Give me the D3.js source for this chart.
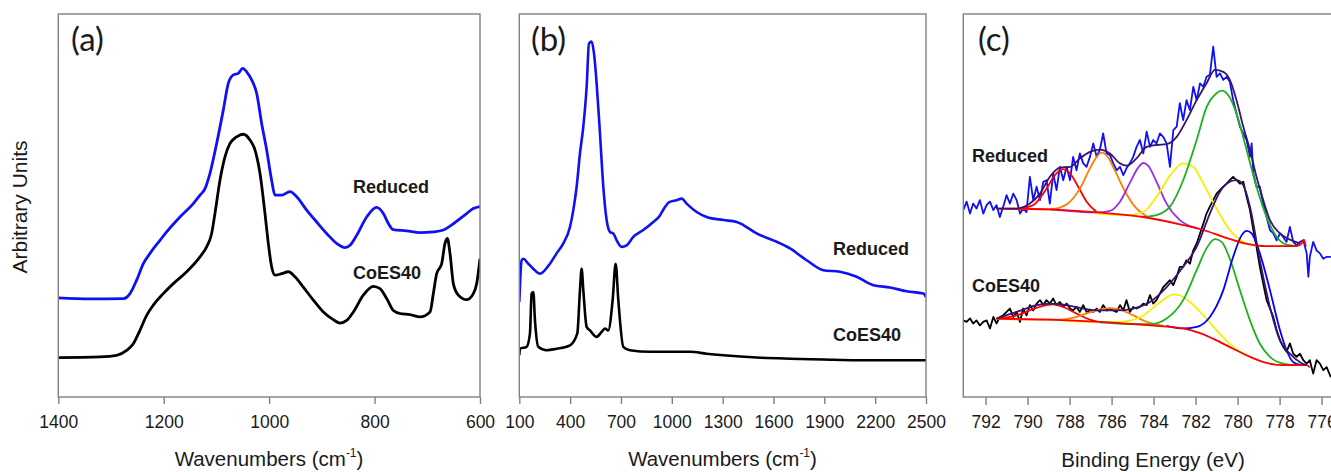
<!DOCTYPE html>
<html>
<head>
<meta charset="utf-8">
<script src="https://cdn.jsdelivr.net/npm/d3@7"></script>
<style>
  body { margin: 0; background: #fff; }
</style>
</head>
<body>
<div id="canvas"></div>
<script>

/* tick labels */
const irTicks = [1400, 1200, 1000, 800, 600];
const ramanTicks = [100, 400, 700, 1000, 1300, 1600, 1900, 2200, 2500];
const xpsTicks = [792, 790, 788, 786, 784, 782, 780, 778, 776];

/* (a) IR spectra: [wavenumber, intensity a.u.] */
const irReduced = [[1400,25.9],[1340,25.6],[1276.7,25.7],[1264,27.0],[1251.4,30.5],[1238.7,34.8],[1226.1,37.5],[1207.1,40.9],
  [1194.5,43.1],[1169.2,47.0],[1143.9,50.5],[1131.2,52.7],[1121.7,54.4],[1112.3,58.4],[1099.6,66.2],[1087,74.9],
  [1077.5,81.9],[1068,84.1],[1058.5,84.5],[1050.3,85.8],[1042.7,84.9],[1033.2,82.8],[1023.7,79.3],[1014.2,71.4],
  [1004.7,64.5],[995.3,56.6],[988.9,52.7],[976.3,52.7],[960.5,53.6],[947.8,52.3],[928.9,48.8],[909.9,45.7],
  [890.9,42.7],[871.9,40.1],[856.1,39.0],[846.6,39.6],[834,42.2],[815,47.0],[796,49.5],[783.4,47.9],
  [773.9,45.3],[764.4,43.7],[739.1,43.4],[713.8,42.9],[688.5,43.1],[669.6,43.6],[656.9,44.6],[637.9,46.6],
  [625.3,47.9],[612.6,49.2],[600,49.7]];
const irCoES40 = [[1400,10.3],[1321,10.5],[1289.3,10.9],[1270.4,12.2],[1257.7,13.9],[1245.1,17.4],[1232.4,21.3],[1219.8,24.0],
  [1200.8,27.0],[1181.8,29.6],[1156.5,32.7],[1131.2,36.6],[1118.6,39.2],[1109.1,42.7],[1102.8,47.9],[1093.3,56.6],
  [1083.8,62.7],[1074.3,66.2],[1061.7,67.9],[1049,68.6],[1036.4,67.1],[1026.9,64.5],[1017.4,58.4],[1007.9,47.9],
  [1001.6,40.1],[995.3,34.0],[988.9,31.8],[976.3,32.2],[963.6,32.7],[951,31.4],[935.2,28.7],[916.2,25.3],
  [897.2,22.2],[878.3,20.2],[865.6,19.3],[853,20.0],[840.3,22.2],[821.4,26.6],[802.4,28.9],[789.7,28.3],
  [777.1,25.7],[764.4,22.6],[751.8,21.8],[732.8,21.5],[713.8,20.9],[694.8,22.2],[688.5,27.0],[682.2,32.2],
  [672.7,34.8],[666.4,40.1],[662,41.4],[656.9,37.5],[650.6,29.6],[641.1,26.6],[625.3,25.4],[612.6,27.0],
  [606.3,29.6],[600,36.1]];

/* (b) Raman spectra: [wavenumber, intensity a.u.] */
const ramanReduced = [[100,24.8],[113.8,35.7],[123.6,36.1],[153.1,34.8],[182.6,33.5],[222,32.2],[241.6,32.7],[281,34.8],
  [320.3,37.5],[359.7,40.1],[399,44.4],[418.7,48.8],[438.4,54.9],[458,63.6],[477.7,70.6],[497.4,81.0],
  [511.2,92.3],[526.9,92.8],[540.7,89.7],[556.4,81.9],[576.1,68.8],[595.7,54.9],[615.4,46.2],[635.1,43.1],
  [654.8,42.7],[674.4,40.9],[704,39.2],[733.4,39.6],[772.8,41.8],[831.8,43.6],[890.8,45.7],[930.2,47.4],
  [955,49.3],[985,50.9],[1028.5,51.4],[1058,51.8],[1087.5,50.5],[1146.6,48.3],[1205.6,47.0],[1303.9,46.2],[1382.6,45.7],
  [1422,44.9],[1500.7,42.7],[1599,40.9],[1697.4,38.8],[1795.7,35.7],[1894.1,33.1],[1992.5,32.7],[2090.8,31.4],
  [2189.2,29.2],[2287.5,28.6],[2385.9,27.6],[2484.3,27.0],[2500,26.1]];
const ramanCoES40 = [[100,10.9],[103.9,12.6],[143.3,13.1],[162.9,16.6],[172.8,27.0],[182.6,27.4],[192.5,20.0],[212.1,13.1],
  [261.3,12.2],[320.3,12.6],[399,13.5],[442.3,16.6],[458,27.9],[467.9,33.5],[477.7,27.9],[497.4,18.3],
  [517,17.4],[556.4,15.7],[585.9,17.0],[605.6,17.9],[625.2,17.4],[650.8,25.3],[668.5,34.8],[684.3,25.3],
  [713.8,13.1],[753.1,12.2],[871.1,11.8],[1008.9,11.8],[1107.2,11.8],[1205.6,11.3],[1303.9,10.9],[1500.7,10.3],
  [1697.4,10.0],[1894.1,9.8],[2090.8,9.6],[2500,9.6]];

/* (c) XPS Co 2p3/2, Reduced: [binding energy eV, counts a.u.] */
const xpsReducedRaw = [[793.06,48.8],[792.90,51.0],[792.74,47.9],[792.59,50.5],[792.43,49.2],[792.27,51.4],[792.11,47.9],
  [791.95,50.1],[791.79,51.0],[791.63,48.8],[791.48,50.1],[791.32,47.0],[791.16,49.7],[791.00,52.7],[790.84,50.5],
  [790.68,53.1],[790.52,51.4],[790.36,47.9],[790.21,49.2],[790.05,48.3],[789.89,57.5],[789.73,51.4],[789.57,54.9],
  [789.41,51.4],[789.25,56.2],[789.10,56.6],[788.94,50.5],[788.78,58.4],[788.62,54.0],[788.46,60.1],[788.30,56.6],
  [788.14,60.1],[787.98,56.6],[787.83,62.7],[787.67,59.2],[787.51,63.6],[787.35,61.0],[787.19,60.1],[787.03,62.7],
  [786.87,66.2],[786.71,62.7],[786.56,64.5],[786.40,68.8],[786.24,63.6],[786.08,63.2],[785.92,61.0],[785.76,59.2],
  [785.60,60.1],[785.44,57.9],[785.29,59.7],[785.13,61.0],[784.97,62.7],[784.81,65.3],[784.65,67.1],[784.49,63.6],
  [784.33,69.3],[784.17,65.3],[784.02,67.1],[783.86,66.2],[783.70,68.8],[783.54,67.9],[783.38,66.2],[783.22,60.1],
  [783.06,69.7],[782.90,70.6],[782.75,76.7],[782.59,72.3],[782.43,77.5],[782.27,74.9],[782.11,81.0],[781.95,77.5],
  [781.79,81.9],[781.63,81.0],[781.48,83.6],[781.32,84.1],[781.16,91.5],[781.00,83.6],[780.84,84.5],[780.68,82.8],
  [780.52,83.6],[780.37,82.3],[780.21,77.5],[780.05,74.0],[779.89,70.6],[779.73,68.8],[779.57,67.1],[779.41,62.7],
  [779.33,66.2],[779.25,58.4],[779.10,54.9],[778.94,54.9],[778.78,50.5],[778.62,47.0],[778.46,43.6],[778.30,42.7],
  [778.14,40.9],[777.98,42.7],[777.83,41.8],[777.67,40.5],[777.51,44.4],[777.35,40.5],[777.19,39.6],[777.03,40.5],
  [776.87,40.9],[776.71,37.5],[776.63,31.4],[776.56,36.6],[776.40,40.5],[776.24,38.3],[776.08,37.5],[775.92,36.1],
  [775.76,36.6],[775.56,36.6]];
const xpsReducedFit = [[791.48,49.2],[790.52,49.2],[789.89,50.5],[789.41,53.1],[788.94,57.5],[788.46,59.9],[787.98,60.1],
  [787.51,62.3],[787.03,64.0],[786.56,64.6],[786.08,63.6],[785.60,61.0],[785.29,60.4],[784.81,62.3],[784.33,65.3],
  [783.86,65.8],[783.38,66.0],[782.90,67.9],[782.43,72.3],[781.95,77.5],[781.48,81.9],[781.08,85.4],[780.68,84.9],
  [780.37,82.8],[780.05,77.5],[779.73,70.6],[779.41,64.5],[779.10,57.5],[778.78,51.4],[778.46,46.2],[777.98,42.7],
  [777.51,41.1],[777.03,40.1]];
const xpsReducedBase = [[791.48,49.2],[788.94,49.0],[786.71,48.2],[784.49,47.0],[782.59,44.9],[781.63,43.6],[780.68,41.8],
  [779.73,40.2],[778.62,39.4],[777.19,39.4],[776.95,40.1],[776.84,41.1],[776.75,39.2]];
const xpsReducedPeaks = [
  { color: "#ff0000", pts: [[790.52,49.1],[789.73,50.1],[789.10,54.4],[788.70,57.9],[788.33,59.5],[787.98,58.4],[787.59,54.9],[787.19,51.0],[786.71,48.3]] },
  { color: "#ff7f00", pts: [[791.00,49.1],[788.94,49.0],[788.14,50.3],[787.51,54.4],[787.03,59.7],[786.71,62.7],[786.48,63.8],[786.24,63.1],[785.84,59.1],[785.37,53.8],[784.89,49.7],[784.33,47.2]] },
  { color: "#9b30e8", pts: [[788.94,49.0],[786.71,48.2],[786.08,48.6],[785.60,51.0],[785.13,55.9],[784.73,59.9],[784.49,61.1],[784.26,60.4],[783.86,56.2],[783.38,50.5],[782.75,46.2],[781.95,44.1]] },
  { color: "#f2f200", pts: [[786.71,47.9],[785.29,47.5],[784.49,48.3],[783.86,52.3],[783.22,57.8],[782.59,61.0],[782.11,60.1],[781.63,55.7],[781.00,49.2],[780.37,43.6],[779.73,40.5],[779.10,39.5]] },
  { color: "#1db31d", pts: [[784.49,47.0],[783.86,47.5],[783.22,49.7],[782.59,56.6],[781.95,67.1],[781.48,75.6],[781.00,79.3],[780.76,80.0],[780.44,78.8],[780.05,74.0],[779.57,64.5],[779.10,54.9],[778.62,47.0],[778.14,41.8],[777.67,39.8],[777.19,39.4]] }
];

/* (c) XPS Co 2p3/2, CoES40 */
const xpsCoESRaw = [[793.06,20.0],[792.90,19.6],[792.74,20.5],[792.59,19.2],[792.43,20.0],[792.27,18.7],[792.11,19.6],
  [791.95,20.0],[791.79,17.9],[791.63,20.9],[791.48,19.2],[791.32,20.9],[791.16,21.3],[791.00,22.2],[790.84,23.1],
  [790.68,20.9],[790.52,22.2],[790.36,19.6],[790.21,23.1],[790.05,21.3],[789.89,24.0],[789.73,22.6],[789.57,24.4],
  [789.41,25.3],[789.25,24.0],[789.10,25.3],[788.94,24.4],[788.78,25.7],[788.62,24.0],[788.46,24.8],[788.30,23.5],
  [788.14,24.4],[787.98,23.1],[787.83,22.6],[787.67,23.5],[787.51,22.2],[787.35,24.0],[787.19,22.2],[787.03,22.6],
  [786.87,22.2],[786.71,23.1],[786.56,22.2],[786.40,24.0],[786.24,22.6],[786.08,23.1],[785.92,22.6],[785.76,22.2],
  [785.60,24.0],[785.44,22.6],[785.29,25.3],[785.13,22.2],[784.97,23.5],[784.81,23.1],[784.65,23.5],[784.49,24.4],
  [784.33,24.0],[784.17,26.6],[784.02,24.4],[783.86,25.3],[783.70,27.0],[783.54,28.7],[783.38,29.6],[783.22,30.5],
  [783.06,29.2],[782.90,31.4],[782.75,34.0],[782.59,34.0],[782.43,35.7],[782.27,34.8],[782.11,38.3],[781.95,40.1],
  [781.79,42.7],[781.63,45.3],[781.48,47.9],[781.32,49.7],[781.16,51.4],[781.00,53.1],[780.84,54.0],[780.68,54.9],
  [780.52,55.7],[780.37,56.6],[780.21,57.5],[780.05,56.6],[779.89,55.7],[779.73,56.2],[779.57,52.3],[779.41,48.8],
  [779.25,43.6],[779.10,39.2],[778.94,34.0],[778.78,29.6],[778.62,25.3],[778.46,23.1],[778.30,20.9],[778.14,17.4],
  [777.98,14.8],[777.83,13.1],[777.67,11.8],[777.51,14.0],[777.35,11.3],[777.19,10.5],[777.03,11.3],[776.87,9.6],
  [776.71,8.7],[776.56,9.6],[776.40,6.1],[776.24,9.6],[776.08,8.7],[775.92,7.0],[775.76,7.8],[775.56,5.2]];
const xpsCoESFit = [[791.48,20.5],[790.52,22.2],[789.57,24.0],[788.94,24.4],[788.14,24.0],[787.35,23.1],[786.56,22.6],
  [785.76,22.6],[784.97,23.1],[784.17,24.8],[783.38,28.7],[782.59,34.0],[781.95,39.2],[781.32,47.9],[780.84,53.6],
  [780.37,56.2],[780.05,56.6],[779.73,55.3],[779.41,49.7],[778.94,35.7],[778.46,23.5],[777.98,14.8],[777.51,11.3],
  [777.03,9.1],[776.71,8.3]];
const xpsCoESBase = [[791.48,20.5],[788.94,20.2],[786.56,19.6],[784.17,18.7],[782.59,17.9],[781.79,16.7],[781.00,14.8],
  [780.21,12.6],[779.41,10.5],[778.62,8.9],[777.83,8.3],[776.71,8.3],[776.56,7.7]];
const xpsCoESPeaks = [
  { color: "#ff0000", pts: [[791.48,20.5],[790.52,21.3],[789.73,23.0],[789.10,24.0],[788.78,24.2],[788.30,23.5],[787.67,21.8],[787.03,20.2],[786.56,19.5]] },
  { color: "#ff7f00", pts: [[791.48,20.4],[789.73,20.2],[788.46,20.2],[787.67,20.9],[787.03,22.1],[786.40,23.0],[786.08,23.2],[785.60,22.8],[784.97,21.3],[784.33,19.6],[783.54,18.6]] },
  { color: "#f2f200", pts: [[788.46,20.0],[786.56,19.5],[785.44,19.7],[784.49,21.3],[783.86,24.0],[783.38,26.0],[783.06,26.8],[782.75,26.5],[782.27,24.8],[781.63,21.3],[781.00,17.4],[780.52,14.6],[780.05,12.4],[779.41,10.5]] },
  { color: "#1db31d", pts: [[786.56,19.5],[784.81,19.0],[784.17,19.0],[783.38,20.5],[782.59,25.3],[781.95,33.1],[781.48,38.8],[781.08,41.2],[780.76,40.5],[780.37,36.1],[779.89,27.9],[779.41,20.0],[778.94,13.9],[778.46,10.5],[777.83,8.7],[777.19,8.3]] },
  { color: "#0000ff", pts: [[783.38,18.6],[782.59,17.9],[781.95,18.3],[781.32,20.9],[780.68,27.9],[780.21,36.6],[779.81,42.2],[779.57,43.4],[779.33,42.7],[778.94,37.5],[778.46,27.9],[777.98,17.4],[777.67,12.2],[777.35,9.1],[776.87,8.3]] }
];

/* set up the drawing canvas */
let drawing = d3.select("#canvas")
    .append("svg")
    .attr("width", 1331)
    .attr("height", 472)
    .style("display", "block");

const plotTop = 14;
const plotBottom = 397;
const frameColor = "#808080";
const tickFont = "'Liberation Sans', Arial, sans-serif";

function makePanel(left, right, domain, ticks, tickLen, id) {
    let x = d3.scaleLinear().domain(domain).range([left, right]);
    let y = d3.scaleLinear().domain([0, 100]).range([plotBottom, plotTop]);

    drawing.append("clipPath").attr("id", id)
        .append("rect")
        .attr("x", left).attr("y", plotTop)
        .attr("width", right - left).attr("height", plotBottom - plotTop);

    let axis = drawing.append("g")
        .attr("transform", "translate(0," + plotBottom + ")")
        .call(d3.axisBottom(x).tickValues(ticks).tickFormat(d3.format("d"))
            .tickSize(tickLen).tickSizeOuter(0).tickPadding(19 - tickLen));
    axis.select(".domain").remove();
    axis.selectAll(".tick line").attr("stroke", frameColor).attr("stroke-width", 1.4);
    axis.selectAll(".tick text")
        .attr("font-family", tickFont)
        .attr("font-size", 17.5)
        .attr("fill", "#1a1a1a");

    let layer = drawing.append("g").attr("clip-path", "url(#" + id + ")");

    drawing.append("rect")
        .attr("x", left).attr("y", plotTop)
        .attr("width", right - left).attr("height", plotBottom - plotTop)
        .attr("fill", "none")
        .attr("stroke", frameColor)
        .attr("stroke-width", 1.4);

    return { x: x, y: y, layer: layer };
}

function addLine(panel, data, color, width, curve) {
    let line = d3.line()
        .x(d => panel.x(d[0]))
        .y(d => panel.y(d[1]))
        .curve(curve);
    panel.layer.append("path")
        .datum(data)
        .attr("d", line)
        .attr("fill", "none")
        .attr("stroke", color)
        .attr("stroke-width", width)
        .attr("stroke-linejoin", "round");
}

function addLabel(x, y, text, size, family, weight) {
    return drawing.append("text")
        .attr("x", x).attr("y", y)
        .attr("font-family", family)
        .attr("font-size", size)
        .attr("font-weight", weight)
        .attr("fill", "#1a1a1a")
        .text(text);
}

function addTitle(cx, y, main, sup, tail) {
    let t = drawing.append("text")
        .attr("x", cx).attr("y", y)
        .attr("text-anchor", "middle")
        .attr("font-family", tickFont)
        .attr("font-size", 20.5)
        .attr("fill", "#1a1a1a");
    t.append("tspan").text(main);
    if (sup) {
        t.append("tspan").attr("font-size", 12).attr("dy", -9).text(sup);
        t.append("tspan").attr("dy", 9).text(tail);
    }
}

/* (a) IR */
let panelA = makePanel(58.3, 480, [1400, 600], irTicks, 7, "clipA");
addLine(panelA, irCoES40, "#000000", 2.8, d3.curveMonotoneX);
addLine(panelA, irReduced, "#1010f5", 2.8, d3.curveMonotoneX);

/* (b) Raman */
let panelB = makePanel(519.3, 926, [100, 2500], ramanTicks, 7, "clipB");
addLine(panelB, ramanCoES40, "#000000", 2.6, d3.curveMonotoneX);
addLine(panelB, ramanReduced, "#1010f5", 2.6, d3.curveMonotoneX);

/* (c) XPS */
let panelC = makePanel(963.3, 1342.6, [793.06, 775], xpsTicks, 8, "clipC");
addLine(panelC, xpsReducedRaw, "#1010f5", 1.8, d3.curveLinear);
addLine(panelC, xpsCoESRaw, "#000000", 1.8, d3.curveLinear);
xpsReducedPeaks.forEach(p => addLine(panelC, p.pts, p.color, 1.8, d3.curveMonotoneX));
xpsCoESPeaks.forEach(p => addLine(panelC, p.pts, p.color, 1.8, d3.curveMonotoneX));
addLine(panelC, xpsReducedBase, "#ff0000", 1.8, d3.curveMonotoneX);
addLine(panelC, xpsCoESBase, "#ff0000", 1.8, d3.curveMonotoneX);
addLine(panelC, xpsReducedFit, "#3a1470", 1.8, d3.curveMonotoneX);
addLine(panelC, xpsCoESFit, "#3a1470", 1.8, d3.curveMonotoneX);

/* axis titles */
addTitle(269, 466, "Wavenumbers (cm", "-1", ")");
addTitle(722.5, 466, "Wavenumbers (cm", "-1", ")");
addTitle(1153, 467, "Binding Energy (eV)");

drawing.append("text")
    .attr("transform", "translate(27,207) rotate(-90)")
    .attr("text-anchor", "middle")
    .attr("font-family", tickFont)
    .attr("font-size", 21)
    .attr("fill", "#1a1a1a")
    .text("Arbitrary Units");

/* panel letters and sample labels */
const letterFont = "Lato, 'Open Sans', sans-serif";
addLabel(71, 51, "(a)", 33, letterFont, "normal");
addLabel(531, 51, "(b)", 33, letterFont, "normal");
addLabel(978, 51, "(c)", 33, letterFont, "normal");

const boldFont = "'Liberation Sans', Arial, sans-serif";
addLabel(353, 193, "Reduced", 18, boldFont, "bold");
addLabel(353, 279, "CoES40", 18, boldFont, "bold");
addLabel(833, 255, "Reduced", 18, boldFont, "bold");
addLabel(833, 341, "CoES40", 18, boldFont, "bold");
addLabel(972, 162, "Reduced", 18, boldFont, "bold");
addLabel(972, 292, "CoES40", 18, boldFont, "bold");

</script>
</body>
</html>
